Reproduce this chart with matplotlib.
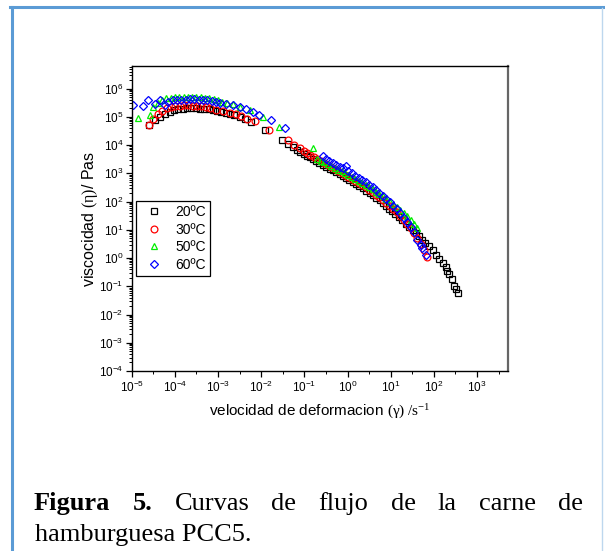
import matplotlib
matplotlib.use("Agg")
import matplotlib.pyplot as plt
from matplotlib.lines import Line2D
from matplotlib.ticker import LogLocator, FixedLocator, NullFormatter
import numpy as np

plt.rcParams['font.family'] = ['Liberation Sans', 'DejaVu Sans']
plt.rcParams['mathtext.fontset'] = 'custom'
plt.rcParams['mathtext.rm'] = 'Liberation Serif'
plt.rcParams['mathtext.it'] = 'Liberation Serif:italic'

# data, as log10 values
x20 = [-4.59, -4.46, -4.35, -4.23, -4.12, -4.02, -3.92, -3.82, -3.72, -3.62, -3.52, -3.42,
       -3.32, -3.22, -3.12, -3.02, -2.92, -2.82, -2.72, -2.62, -2.50, -2.37, -2.23, -1.91,
       -1.51, -1.38, -1.27, -1.18, -1.11, -1.02, -0.94, -0.88, -0.80, -0.72, -0.65, -0.57,
       -0.49, -0.41, -0.34, -0.26, -0.18, -0.10, -0.03, 0.04, 0.12, 0.20, 0.27, 0.35, 0.43,
       0.51, 0.59, 0.67, 0.75, 0.83, 0.90, 0.97, 1.04, 1.11, 1.19, 1.27, 1.35, 1.43, 1.51,
       1.58, 1.65, 1.73, 1.80, 1.88, 1.97, 2.04, 2.12, 2.20, 2.27, 2.31, 2.35, 2.41, 2.47,
       2.52, 2.57]
y20 = [4.70, 4.88, 4.99, 5.11, 5.18, 5.23, 5.27, 5.29, 5.30, 5.30, 5.30, 5.29,
       5.28, 5.26, 5.24, 5.21, 5.18, 5.14, 5.10, 5.05, 5.00, 4.92, 4.82, 4.52,
       4.17, 4.05, 3.93, 3.84, 3.77, 3.69, 3.62, 3.57, 3.50, 3.43, 3.36, 3.30,
       3.23, 3.16, 3.10, 3.03, 2.96, 2.90, 2.83, 2.77, 2.70, 2.62, 2.55, 2.47, 2.39,
       2.31, 2.22, 2.13, 2.04, 1.94, 1.85, 1.75, 1.65, 1.55, 1.44, 1.33, 1.21, 1.10, 0.99,
       0.88, 0.77, 0.65, 0.53, 0.42, 0.28, 0.12, -0.03, -0.17, -0.33, -0.45, -0.58, -0.76, -0.98,
       -1.08, -1.25]

x30 = [-4.59, -4.50, -4.39, -4.29, -4.19, -4.09, -3.99, -3.89, -3.79, -3.69, -3.59, -3.49,
       -3.39, -3.29, -3.19, -3.04, -2.88, -2.73, -2.58, -2.46, -2.34, -2.15, -1.81,
       -1.38, -1.25, -1.11, -1.02, -0.94, -0.86, -0.78, -0.70, -0.62, -0.54, -0.46, -0.38,
       -0.30, -0.22, -0.14, -0.06, 0.02, 0.10, 0.18, 0.26, 0.34, 0.42, 0.50, 0.58, 0.66,
       0.74, 0.82, 0.90, 0.98, 1.06, 1.14, 1.22, 1.30, 1.38, 1.46, 1.54, 1.62, 1.70, 1.78, 1.85]
y30 = [4.70, 4.94, 5.11, 5.22, 5.30, 5.35, 5.38, 5.40, 5.41, 5.41, 5.40, 5.39,
       5.37, 5.34, 5.31, 5.25, 5.19, 5.15, 5.11, 5.03, 4.94, 4.85, 4.55,
       4.17, 3.99, 3.89, 3.80, 3.72, 3.65, 3.58, 3.51, 3.44, 3.37, 3.30, 3.23,
       3.16, 3.09, 3.02, 2.95, 2.88, 2.81, 2.73, 2.66, 2.58, 2.50, 2.42, 2.33, 2.24,
       2.15, 2.05, 1.95, 1.85, 1.74, 1.62, 1.50, 1.36, 1.21, 1.05, 0.88, 0.70, 0.50, 0.28, 0.05]

x50 = [-4.85, -4.58, -4.50, -4.40, -4.30, -4.20, -4.10, -4.00, -3.90, -3.80, -3.70, -3.60,
       -3.50, -3.40, -3.30, -3.20, -3.10, -3.00, -2.90, -2.80, -2.65, -2.50, -2.27, -1.96,
       -1.58, -0.81, -0.70, -0.62, -0.54, -0.46, -0.38, -0.30, -0.22, -0.14, -0.06, 0.02,
       0.10, 0.18, 0.26, 0.34, 0.42, 0.50, 0.58, 0.66, 0.74, 0.82, 0.90, 0.98, 1.06, 1.14,
       1.22, 1.30, 1.38, 1.46, 1.54, 1.62]
y50 = [4.97, 5.05, 5.35, 5.50, 5.60, 5.65, 5.68, 5.70, 5.71, 5.72, 5.72, 5.71,
       5.70, 5.69, 5.67, 5.65, 5.62, 5.58, 5.54, 5.50, 5.44, 5.36, 5.23, 4.99,
       4.64, 3.91, 3.52, 3.45, 3.39, 3.32, 3.26, 3.20, 3.13, 3.07, 3.00, 2.94,
       2.87, 2.80, 2.73, 2.66, 2.58, 2.51, 2.43, 2.35, 2.27, 2.18, 2.09, 2.00, 1.91, 1.81,
       1.71, 1.60, 1.49, 1.36, 1.22, 1.05]

x60 = [-4.96, -4.73, -4.62, -4.46, -4.35, -4.23, -4.15, -4.05, -3.95, -3.85, -3.75, -3.65,
       -3.55, -3.45, -3.35, -3.25, -3.15, -3.05, -2.95, -2.81, -2.65, -2.50, -2.35, -2.20,
       -2.04, -1.77, -1.44, -0.58, -0.50, -0.42, -0.34, -0.26, -0.18, -0.10, -0.03, 0.02,
       0.10, 0.18, 0.26, 0.34, 0.42, 0.50, 0.58, 0.66, 0.74, 0.82, 0.90, 0.98, 1.06, 1.14,
       1.22, 1.30, 1.38, 1.46, 1.54, 1.62, 1.70, 1.73, 1.81]
y60 = [5.41, 5.37, 5.58, 5.47, 5.58, 5.41, 5.52, 5.58, 5.60, 5.60, 5.61, 5.62,
       5.62, 5.61, 5.60, 5.58, 5.56, 5.53, 5.50, 5.47, 5.41, 5.35, 5.27, 5.16,
       5.05, 4.90, 4.62, 3.60, 3.50, 3.42, 3.35, 3.30, 3.24, 3.18, 3.25, 3.08,
       3.00, 2.92, 2.85, 2.77, 2.69, 2.60, 2.51, 2.41, 2.31, 2.20, 2.09, 1.97, 1.85, 1.72,
       1.58, 1.43, 1.27, 1.10, 0.91, 0.64, 0.45, 0.34, 0.10]

series = [
    ("20ºC", x20, y20, "s", "black"),
    ("30ºC", x30, y30, "o", "red"),
    ("50ºC", x50, y50, "^", "#00ee00"),
    ("60ºC", x60, y60, "D", "blue"),
]

fig = plt.figure(figsize=(6.05, 5.51), dpi=100)
ax = fig.add_axes([0.2177, 0.3267, 0.6222, 0.5535])

for label, xs, ys, mk, col in series:
    ms = 4.3 if mk == "D" else 4.9
    ax.plot(10 ** np.array(xs), 10 ** np.array(ys), linestyle="none", marker=mk,
            markersize=ms, markerfacecolor="none", markeredgecolor=col,
            markeredgewidth=0.9, label=label)

ax.set_xscale("log")
ax.set_yscale("log")
ax.set_xlim(1e-5, 10 ** 3.72)
ax.set_ylim(1e-4, 10 ** 6.8)

ax.xaxis.set_major_locator(FixedLocator([10.0 ** k for k in range(-5, 4)]))
ax.xaxis.set_minor_locator(FixedLocator([10.0 ** (k + 0.5) for k in range(-5, 4)]))
ax.xaxis.set_minor_formatter(NullFormatter())
ax.yaxis.set_major_locator(FixedLocator([10.0 ** k for k in range(-4, 7)]))
ax.yaxis.set_minor_locator(LogLocator(base=10, subs=np.arange(2, 10), numticks=30))
ax.yaxis.set_minor_formatter(NullFormatter())

ax.tick_params(which="major", direction="out", length=4, width=0.9, labelsize=8.5, pad=2)
ax.tick_params(which="minor", direction="out", length=2.2, width=0.7)
for side in ["top", "left", "bottom"]:
    ax.spines[side].set_linewidth(1.0)
ax.spines["right"].set_color("#666666")
ax.spines["right"].set_linewidth(1.6)

ax.set_xlabel("velocidad de deformacion $\\mathrm{(\\gamma)\\ /s^{-1}}$", fontsize=11, labelpad=6)
ax.set_ylabel("viscocidad $\\mathrm{(\\eta)}$/ Pas", fontsize=11.5, labelpad=-1)

leg = ax.legend(loc="upper left", bbox_to_anchor=(0.012, 0.557), borderaxespad=0,
                fancybox=False, edgecolor="black", framealpha=1, fontsize=10,
                handlelength=2.0, handletextpad=0.5, labelspacing=0.25, borderpad=0.3)
leg.get_frame().set_linewidth(0.9)

# text box border
border = "#5b9bd5"
fig.add_artist(Line2D([10 / 605, 1.0], [1 - 7 / 551, 1 - 7 / 551], color=border, lw=2.2))
fig.add_artist(Line2D([12 / 605, 12 / 605], [0.0, 1 - 7 / 551], color=border, lw=2.2))
fig.add_artist(Line2D([602 / 605, 602 / 605], [0.0, 1 - 8 / 551], color="#bdd7ee", lw=1.0))

# justified caption
words = [("Figura", "bold"), ("5.", "bold"), ("Curvas", "normal"), ("de", "normal"),
         ("flujo", "normal"), ("de", "normal"), ("la", "normal"), ("carne", "normal"),
         ("de", "normal")]
left_px, right_px = 34, 583
texts = []
for w, wt in words:
    texts.append(fig.text(0, 1 - 510 / 551, w, fontsize=19, fontweight=wt,
                          family="Liberation Serif", va="baseline"))
fig.canvas.draw()
r = fig.canvas.get_renderer()
widths = [t.get_window_extent(r).width for t in texts]
gap = (right_px - left_px - sum(widths)) / (len(texts) - 1)
pos = left_px
for t, w in zip(texts, widths):
    t.set_x(pos / 605)
    pos += w + gap
fig.text(35 / 605, 1 - 541 / 551, "hamburguesa PCC5.", fontsize=19,
         family="Liberation Serif", va="baseline")

fig.savefig("out.png", dpi=100)
